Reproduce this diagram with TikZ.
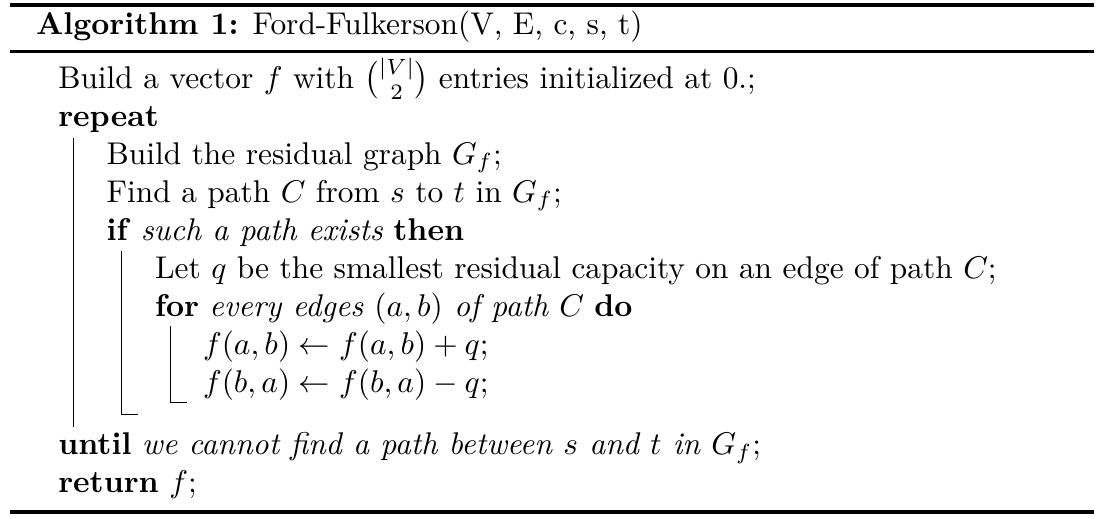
\documentclass[tikz,border=0pt]{standalone}
\usepackage{amsmath}
\begin{document}
\begin{tikzpicture}[x=0.3184pt,y=-0.3184pt,
  txt/.style={anchor=base west,inner sep=0pt,outer sep=0pt,font=\normalsize},
  rulethick/.style={line width=1.15pt},
  rulemid/.style={line width=0.86pt},
  bar/.style={line width=0.38pt}]
\useasboundingbox (0,0) rectangle (1120,519);
% rules
\draw[rulethick] (10,5) -- (1094,5);
\draw[rulemid] (10,51.3) -- (1094,51.3);
\draw[rulethick] (10,512) -- (1094,512);
% title
\node[txt] (title) at (36,35) {\textbf{Algorithm 1:} Ford-Fulkerson(V, E, c, s, t)};
% body
\node[txt] (l1) at (58.3,88.3) {Build a vector $f$ with $\binom{|V|}{2}$ entries initialized at 0.;};
\node[txt] (l2) at (58.3,126.3) {\textbf{repeat}};
\node[txt] (l3) at (106.7,164.3) {Build the residual graph $G_f$;};
\node[txt] (l4) at (106.7,202.3) {Find a path $C$ from $s$ to $t$ in $G_f$;};
\node[txt] (l5) at (106.7,240.3) {\textbf{if} \textit{such a path exists} \textbf{then}};
\node[txt] (l6) at (155,278.3) {Let $q$ be the smallest residual capacity on an edge of path $C$;};
\node[txt] (l7) at (155,316.3) {\textbf{for} \textit{every edges $(a,b)$ of path $C$} \textbf{do}};
\node[txt] (l8) at (203,354.3) {$f(a,b) \leftarrow f(a,b) + q$;};
\node[txt] (l9) at (203,392.3) {$f(b,a) \leftarrow f(b,a) - q$;};
\node[txt] (l10) at (58.3,455) {\textbf{until} \textit{we cannot find a path between $s$ and $t$ in $G_f$};};
\node[txt] (l11) at (58.3,493) {\textbf{return} $f$;};
% block bars
\coordinate (rA) at (73.3,138.3);
\coordinate (rB) at (73.3,427);
\draw[bar] (rA) -- (rB);
\coordinate (iA) at (121.5,251);
\coordinate (iB) at (121.5,414.7);
\coordinate (iC) at (138.3,414.7);
\draw[bar] (iA) -- (iB) -- (iC);
\coordinate (fA) at (170.7,326);
\coordinate (fB) at (170.7,402.3);
\coordinate (fC) at (186.7,402.3);
\draw[bar] (fA) -- (fB) -- (fC);
\end{tikzpicture}
\end{document}
